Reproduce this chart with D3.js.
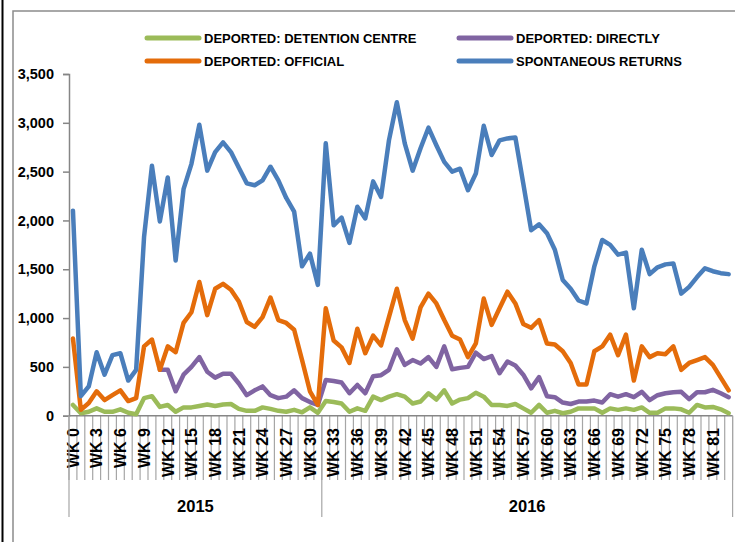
<!DOCTYPE html>
<html>
<head>
<meta charset="utf-8">
<style>
    body { margin: 0; background: #fff; }
    svg { display: block; font-family: "Liberation Sans", Arial, sans-serif; font-weight: bold; }
    .axis-line { stroke: #868686; stroke-width: 1.5; }
    .tick-line { stroke: #a6a6a6; stroke-width: 1.2; }
    .series { fill: none; stroke-width: 4.5; stroke-linejoin: round; stroke-linecap: round; }
</style>
</head>
<body>
<svg width="735" height="542"></svg>
<script src="https://d3js.org/d3.v7.min.js"></script>
<script>
// weeks WK 0 .. WK 83, grouped by year
var weeks = d3.range(84).map(function(i) { return "WK " + i; });
var years = ["2015", "2016"];
var yearWeeks = [32, 52];
var yTicks = [0, 500, 1000, 1500, 2000, 2500, 3000, 3500];

var detentionCentre = [110, 25, 40, 75, 40, 40, 65, 30, 15, 180, 200, 90, 110, 40, 85, 85, 100, 115, 100, 115,
    120, 70, 50, 50, 85, 70, 50, 40, 60, 35, 85, 30, 150, 140, 125, 40, 75, 50, 195, 160,
    195, 220, 195, 125, 145, 230, 165, 260, 125, 165, 180, 235, 195, 110, 110, 100, 120, 75, 30, 110,
    30, 50, 25, 40, 75, 75, 75, 30, 75, 60, 75, 60, 85, 30, 30, 75, 75, 65, 30, 110,
    85, 90, 65, 25];
var directly = [null, null, null, null, null, null, null, null, null, null, null, 470, 470, 250, 420, 500, 600, 450, 390, 430,
    430, 330, 210, 260, 300, 210, 180, 195, 260, 180, 140, 110, 365, 355, 340, 230, 315, 230, 405, 415,
    470, 680, 520, 570, 535, 600, 500, 710, 475, 490, 500, 645, 580, 610, 435, 555, 515, 420, 280, 395,
    200, 190, 135, 120, 145, 145, 155, 135, 220, 195, 220, 190, 245, 160, 210, 230, 240, 245, 170, 240,
    240, 265, 230, 190];
var official = [790, 60, 130, 250, 160, 210, 260, 150, 180, 710, 780, 470, 710, 650, 950, 1060, 1370, 1030, 1300, 1350,
    1290, 1170, 960, 910, 1010, 1210, 980, 950, 880, 570, 250, 110, 1100, 770, 700, 540, 890, 640, 820, 720,
    1010, 1300, 980, 790, 1110, 1250, 1150, 980, 820, 780, 600, 740, 1200, 930, 1100, 1270, 1150, 940, 900, 980,
    740, 730, 660, 540, 320, 320, 660, 710, 830, 620, 830, 360, 710, 600, 640, 630, 710, 470, 540, 570,
    600, 520, 390, 260];
var spontaneous = [2100, 200, 300, 650, 420, 620, 640, 360, 470, 1830, 2560, 1990, 2440, 1590, 2320, 2580, 2980, 2510, 2700, 2800,
    2700, 2540, 2380, 2360, 2410, 2550, 2410, 2230, 2090, 1530, 1660, 1340, 2790, 1950, 2030, 1770, 2140, 2020, 2400, 2240,
    2820, 3210, 2790, 2510, 2740, 2950, 2770, 2600, 2500, 2530, 2310, 2480, 2970, 2670, 2820, 2840, 2850, 2380, 1900, 1960,
    1870, 1700, 1390, 1300, 1180, 1150, 1530, 1800, 1750, 1650, 1670, 1100, 1700, 1450, 1520, 1550, 1560, 1250, 1320, 1420,
    1510, 1480, 1460, 1450];

var seriesNames = ["DEPORTED: DETENTION CENTRE", "DEPORTED: DIRECTLY", "DEPORTED: OFFICIAL", "SPONTANEOUS RETURNS"];
var seriesValues = [detentionCentre, directly, official, spontaneous];
var seriesColors = ["#9bbb59", "#8064a2", "#e46c0a", "#4a7ebb"];

var svg = d3.select("svg");

// frame
svg.append("line").attr("x1", 2.5).attr("x2", 2.5).attr("y1", 0).attr("y2", 542)
    .attr("stroke", "#000").attr("stroke-width", 2);
svg.append("rect").attr("x", 13).attr("y", 11).attr("width", 740).attr("height", 560)
    .attr("fill", "none").attr("stroke", "#8c8c8c").attr("stroke-width", 1.5);

var x = d3.scaleBand().domain(weeks).range([69, 732.6]);
var y = d3.scaleLinear().domain([0, 3500]).range([415.7, 74]);
var step = x.step();

// y axis
var yAxis = svg.append("g").attr("transform", "translate(69,0)")
    .call(d3.axisLeft(y).tickValues(yTicks).tickSize(6).tickPadding(9).tickFormat(d3.format(",")));
yAxis.select(".domain").attr("stroke", "#868686").attr("stroke-width", 1.5);
yAxis.selectAll(".tick line").attr("stroke", "#868686").attr("stroke-width", 1.5);
yAxis.selectAll(".tick text").attr("font-size", "14.5px").attr("font-family", null)
    .attr("fill", "#000").attr("font-weight", "bold");

// x axis: category boundaries
var xAxis = svg.append("g");
xAxis.selectAll("line.tick-line")
    .data(d3.range(weeks.length + 1))
    .enter().append("line")
    .attr("class", "tick-line")
    .attr("x1", function(i) { return x.range()[0] + i * step; })
    .attr("x2", function(i) { return x.range()[0] + i * step; })
    .attr("y1", y(0)).attr("y2", 480);
xAxis.append("line").attr("class", "axis-line")
    .attr("x1", x.range()[0]).attr("x2", x.range()[1]).attr("y1", y(0)).attr("y2", y(0));

xAxis.selectAll("text.wk")
    .data(weeks.filter(function(d, i) { return i % 3 === 0; }))
    .enter().append("text")
    .attr("class", "wk")
    .attr("transform", function(d) { return "translate(" + (x(d) + step / 2) + ",428) rotate(-90)"; })
    .attr("dy", "0.36em")
    .attr("text-anchor", "end")
    .attr("font-size", "16px")
    .text(function(d) { return d; });

// year groups
var start = 0;
years.forEach(function(yr, k) {
    var x0 = x.range()[0] + start * step;
    var x1 = x0 + yearWeeks[k] * step;
    if (k === 0) {
        xAxis.append("line").attr("class", "tick-line").attr("x1", x0).attr("x2", x0).attr("y1", y(0)).attr("y2", 517);
    }
    xAxis.append("line").attr("class", "tick-line").attr("x1", x1).attr("x2", x1).attr("y1", y(0)).attr("y2", 517);
    xAxis.append("text")
        .attr("x", (x0 + x1) / 2).attr("y", 506).attr("dy", "0.35em")
        .attr("text-anchor", "middle").attr("font-size", "16.5px")
        .text(yr);
    start += yearWeeks[k];
});

// lines
var line = d3.line()
    .defined(function(d) { return d != null; })
    .x(function(d, i) { return x(weeks[i]) + step / 2; })
    .y(function(d) { return y(d); });

svg.selectAll("path.series")
    .data(seriesValues)
    .enter().append("path")
    .attr("class", "series")
    .attr("stroke", function(d, i) { return seriesColors[i]; })
    .attr("d", line);

// legend
var legendX = [145, 457];
var legendY = [38, 61];
var legend = svg.selectAll("g.legend")
    .data(seriesNames)
    .enter().append("g")
    .attr("class", "legend")
    .attr("transform", function(d, i) { return "translate(" + legendX[i % 2] + "," + legendY[Math.floor(i / 2)] + ")"; });
legend.append("line")
    .attr("x1", 2).attr("x2", 54).attr("y1", 0).attr("y2", 0)
    .attr("stroke", function(d, i) { return seriesColors[i]; })
    .attr("stroke-width", 5).attr("stroke-linecap", "round");
legend.append("text")
    .attr("x", 59).attr("dy", "0.36em")
    .attr("font-size", "13px")
    .text(function(d) { return d; });
</script>
</body>
</html>
